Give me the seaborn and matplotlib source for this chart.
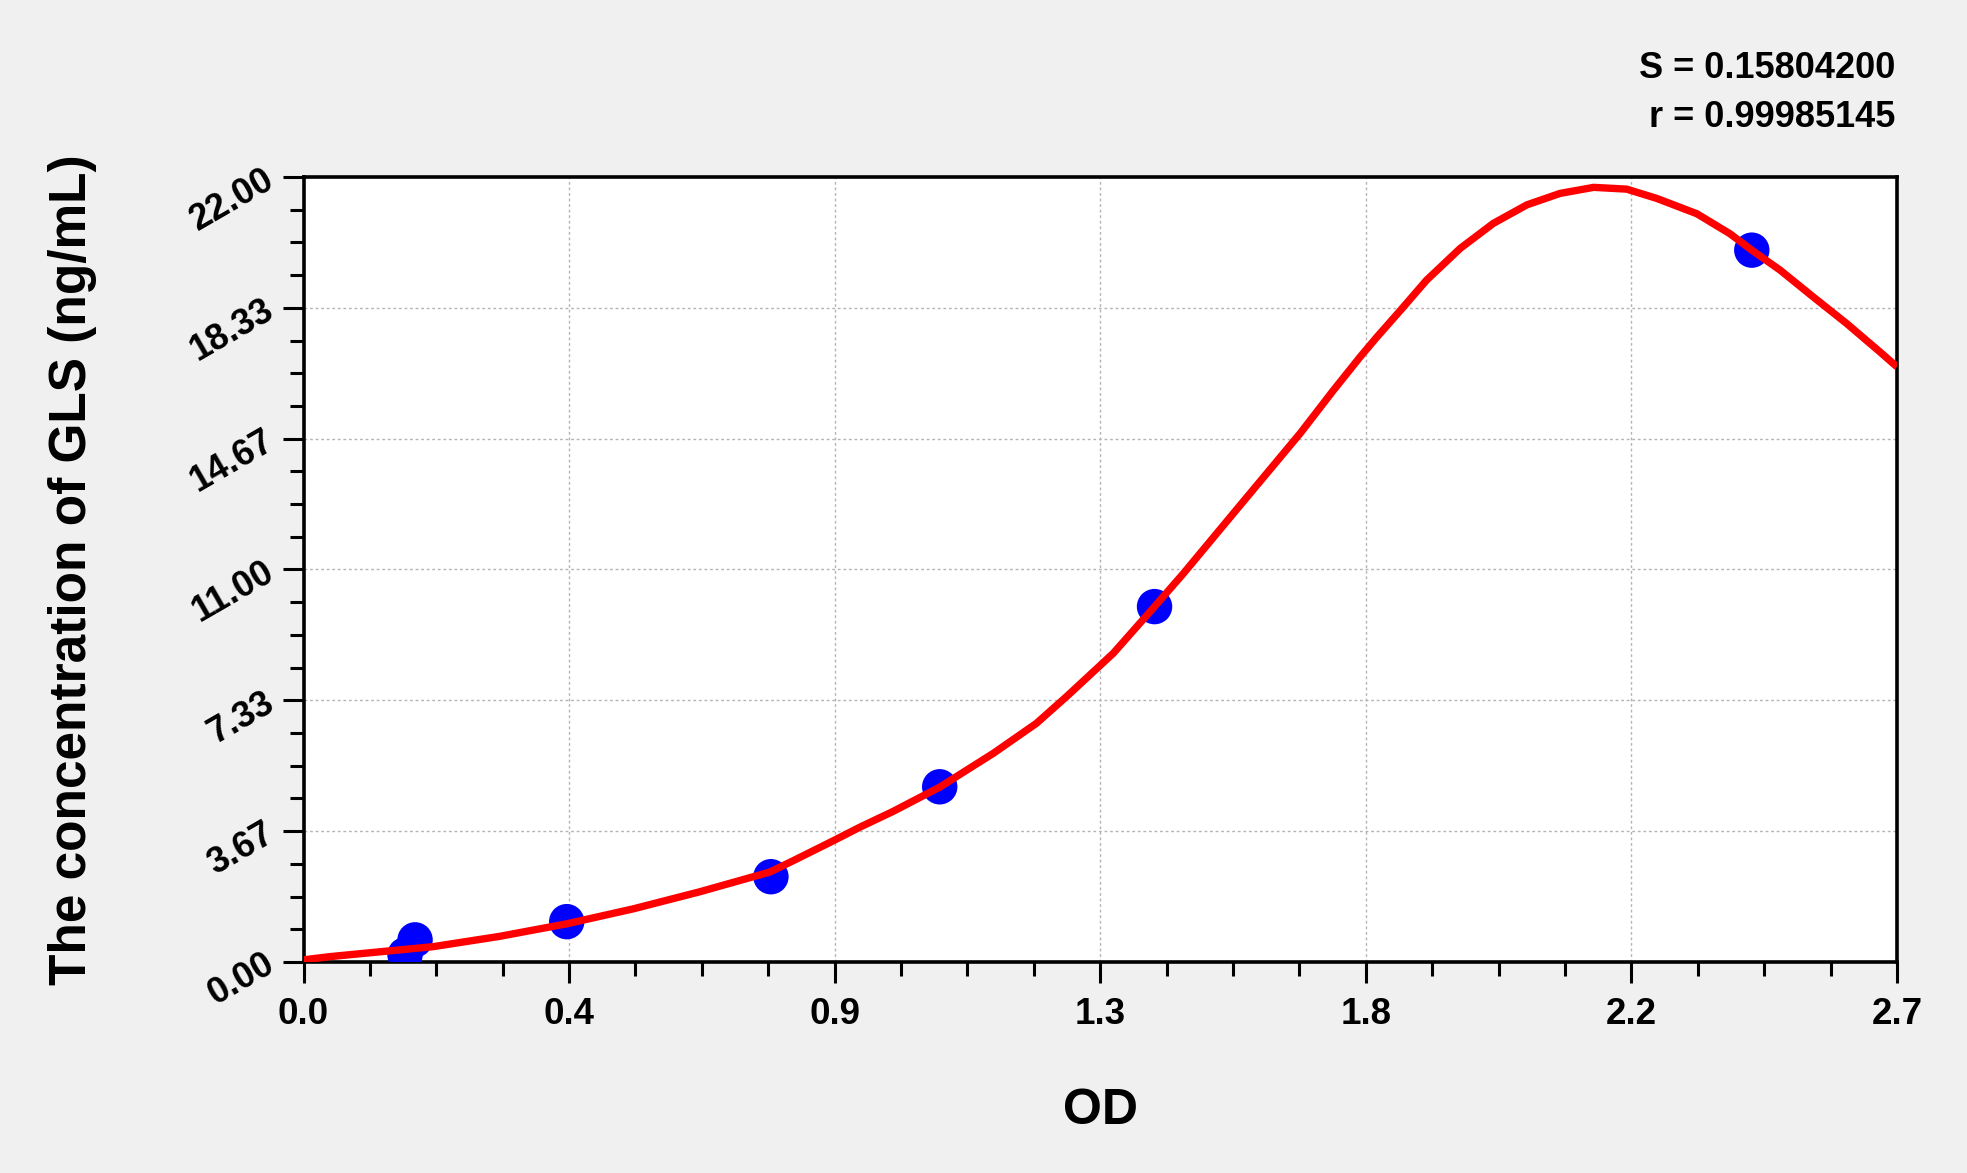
import numpy as np
import pandas as pd
import matplotlib
matplotlib.use("Agg")
import matplotlib.pyplot as plt
from matplotlib.ticker import MultipleLocator
import seaborn as sns

# -------- data --------
std_od = [0.172, 0.189, 0.446, 0.792, 1.078, 1.442, 2.454]
std_conc = [0.20, 0.62, 1.13, 2.39, 4.91, 9.96, 19.95]

# fitted standard curve
curve_od = [0.0, 0.045, 0.101, 0.220, 0.333, 0.446, 0.559, 0.672, 0.790, 0.830,
            0.898, 0.943, 0.999, 1.078, 1.169, 1.242, 1.293, 1.372, 1.442, 1.491,
            1.576, 1.689, 1.745, 1.790, 1.818, 1.858, 1.903, 1.960, 2.016, 2.073,
            2.129, 2.186, 2.242, 2.293, 2.361, 2.417, 2.454, 2.502, 2.558, 2.615,
            2.671, 2.700]
curve_conc = [0.06, 0.15, 0.24, 0.43, 0.72, 1.07, 1.49, 1.97, 2.52, 2.84,
              3.40, 3.78, 4.22, 4.90, 5.85, 6.69, 7.44, 8.65, 9.96, 10.89,
              12.58, 14.82, 16.02, 16.95, 17.50, 18.25, 19.11, 20.00, 20.70, 21.22,
              21.54, 21.71, 21.66, 21.40, 20.97, 20.41, 19.95, 19.39, 18.64, 17.89,
              17.10, 16.68]

x_ticks = [0.0, 0.45, 0.9, 1.35, 1.8, 2.25, 2.7]
x_ticklabels = ["0.0", "0.4", "0.9", "1.3", "1.8", "2.2", "2.7"]
y_ticks = [0.0, 22 / 6, 44 / 6, 11.0, 88 / 6, 110 / 6, 22.0]
y_ticklabels = ["0.00", "3.67", "7.33", "11.00", "14.67", "18.33", "22.00"]

stats_lines = ["S = 0.15804200", "r = 0.99985145"]

std_df = pd.DataFrame({"OD": std_od, "conc": std_conc})
curve_df = pd.DataFrame({"OD": curve_od, "conc": curve_conc})

# -------- style --------
sns.set_style("white")
plt.rcParams["font.family"] = ["Liberation Sans", "DejaVu Sans"]
plt.rcParams["font.weight"] = "bold"
plt.rcParams["text.color"] = "black"
plt.rcParams["axes.labelcolor"] = "black"
plt.rcParams["xtick.color"] = "black"
plt.rcParams["ytick.color"] = "black"

fig = plt.figure(figsize=(19.67, 11.73), dpi=100, facecolor="#f0f0f0")
ax = fig.add_axes([0.1543, 0.1799, 0.8101, 0.6692])
ax.set_facecolor("white")

sns.scatterplot(data=std_df, x="OD", y="conc", ax=ax, s=650, color="#0000ff",
                edgecolor="none", zorder=3, legend=False)
sns.lineplot(data=curve_df, x="OD", y="conc", ax=ax, color="#ff0000", linewidth=5.3,
             sort=False, zorder=4, estimator=None, solid_joinstyle="round",
             solid_capstyle="butt")

ax.set_xlim(0, 2.7)
ax.set_ylim(0, 22)
ax.set_xticks(x_ticks)
ax.set_xticklabels(x_ticklabels, fontsize=26.5, fontweight="bold")
ax.set_yticks(y_ticks)
ax.set_yticklabels(y_ticklabels, fontsize=26, fontweight="bold", rotation=30,
                   rotation_mode="anchor", ha="right", va="center")
ax.xaxis.set_minor_locator(MultipleLocator(0.1125))
ax.yaxis.set_minor_locator(MultipleLocator(22 / 24))

ax.tick_params(which="major", direction="out", length=15, width=2.2, color="black")
ax.tick_params(which="minor", direction="out", length=10, width=2.2, color="black")
ax.tick_params(axis="x", which="major", pad=10)
ax.tick_params(axis="y", which="major", pad=8)
ax.tick_params(axis="x", which="both", bottom=True)
ax.tick_params(axis="y", which="both", left=True)

ax.grid(True, which="major", color="#b4b4b4", linestyle=(0, (2, 2)), linewidth=1)
for sp in ax.spines.values():
    sp.set_visible(True)
    sp.set_color("black")
    sp.set_linewidth(2.6)

ax.set_xlabel("OD", fontsize=36, fontweight="bold")
ax.xaxis.set_label_coords(0.5, -0.1904)
ax.xaxis.label.set_va("center")
ax.set_ylabel("The concentration of GLS (ng/mL)", fontsize=37, fontweight="bold")
ax.yaxis.set_label_coords(-0.1449, 0.5)
ax.yaxis.label.set_va("center")

fig.text(0.9634, 0.9335, stats_lines[0], ha="right", va="baseline", fontsize=26,
         fontweight="bold")
fig.text(0.9634, 0.8917, stats_lines[1], ha="right", va="baseline", fontsize=26,
         fontweight="bold")

fig.savefig("out.png", dpi=100, facecolor=fig.get_facecolor())
